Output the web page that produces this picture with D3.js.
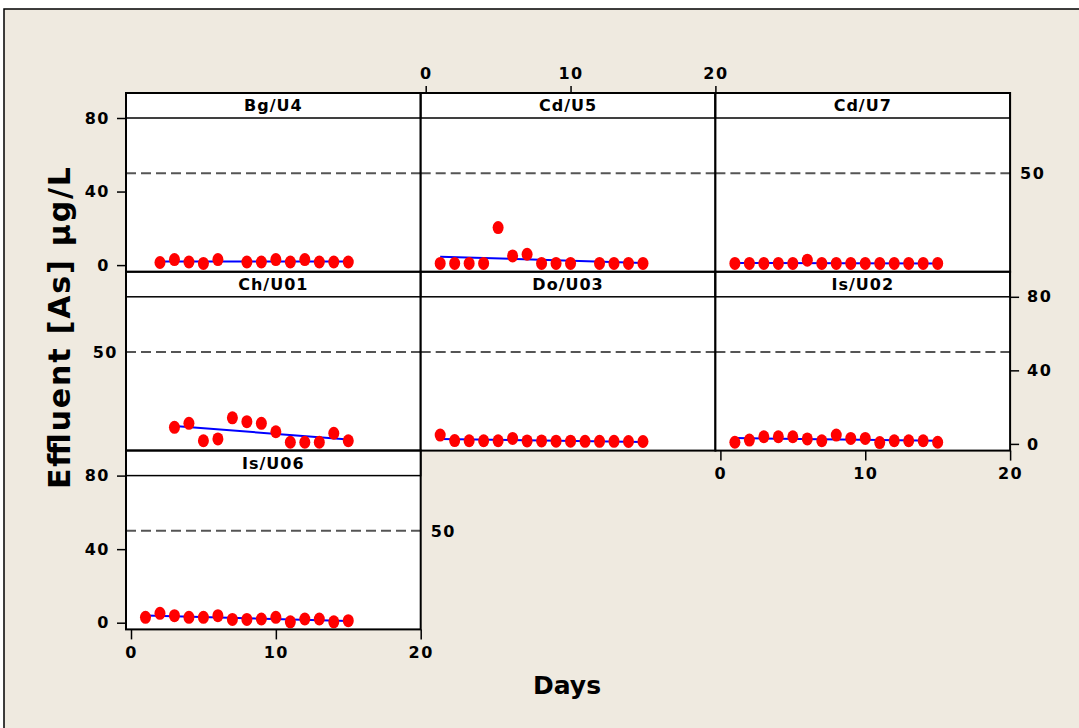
<!DOCTYPE html>
<html>
<head>
<meta charset="utf-8">
<script src="https://cdn.jsdelivr.net/npm/d3@7"></script>
<style>
  body { margin: 0; background: #fff; }
  text { font-family: "DejaVu Sans", Verdana, sans-serif; font-weight: bold; }
</style>
</head>
<body>
<div id="canvas"></div>
<script>
// panel names, in reading order
const panelNames = ["Bg/U4", "Cd/U5", "Cd/U7", "Ch/U01", "Do/U03", "Is/U02", "Is/U06"];

// days and effluent arsenic (µg/L) per panel
const bgU4Days = [2, 3, 4, 5, 6, 8, 9, 10, 11, 12, 13, 14, 15];
const bgU4Vals = [1.4, 3.0, 1.7, 0.9, 3.0, 1.7, 1.7, 3.0, 1.7, 3.0, 1.7, 1.7, 1.7];

const cdU5Days = [1, 2, 3, 4, 5, 6, 7, 8, 9, 10, 12, 13, 14, 15];
const cdU5Vals = [0.9, 0.9, 0.9, 0.9, 20.4, 5.0, 5.9, 0.9, 0.9, 0.9, 0.9, 0.9, 0.9, 0.9];

const cdU7Days = [1, 2, 3, 4, 5, 6, 7, 8, 9, 10, 11, 12, 13, 14, 15];
const cdU7Vals = [0.9, 0.9, 0.9, 0.9, 0.9, 2.7, 0.9, 0.9, 0.9, 0.9, 0.9, 0.9, 0.9, 0.9, 0.9];

const chU01Days = [3, 4, 5, 6, 7, 8, 9, 10, 11, 12, 13, 14, 15];
const chU01Vals = [9.0, 11.2, 1.7, 2.7, 14.2, 12.1, 11.2, 6.6, 0.9, 0.9, 0.9, 5.8, 1.7];

const doU03Days = [1, 2, 3, 4, 5, 6, 7, 8, 9, 10, 11, 12, 13, 14, 15];
const doU03Vals = [4.8, 1.8, 1.7, 1.7, 1.7, 3.0, 1.6, 1.6, 1.5, 1.5, 1.4, 1.4, 1.4, 1.3, 1.3];

const isU02Days = [1, 2, 3, 4, 5, 6, 7, 8, 9, 10, 11, 12, 13, 14, 15];
const isU02Vals = [0.9, 2.1, 3.9, 3.9, 3.9, 2.7, 1.7, 4.8, 3.0, 3.0, 0.7, 1.7, 1.7, 1.7, 0.9];

const isU06Days = [1, 2, 3, 4, 5, 6, 7, 8, 9, 10, 11, 12, 13, 14, 15];
const isU06Vals = [2.9, 5.1, 3.8, 2.9, 2.9, 3.8, 1.8, 1.8, 2.0, 2.9, 0.5, 2.0, 2.0, 0.5, 1.1];

const xTicks = [0, 10, 20];
const yTicks = [0, 40, 80];
const refLine = 50;

const width = 1079, height = 728;
const svg = d3.select("#canvas").append("svg")
  .attr("width", width).attr("height", height);

// outer frame
svg.append("rect")
  .attr("x", 4).attr("y", 9).attr("width", 1100).attr("height", 800)
  .attr("fill", "#efeae0").attr("stroke", "#000").attr("stroke-width", 1.5);

const gridLeft = 126, gridTop = 93, colW = 294.7, rowH = 178.8, stripH = 25;

const panels = [
  { name: panelNames[0], days: bgU4Days, vals: bgU4Vals, col: 0, row: 0 },
  { name: panelNames[1], days: cdU5Days, vals: cdU5Vals, col: 1, row: 0 },
  { name: panelNames[2], days: cdU7Days, vals: cdU7Vals, col: 2, row: 0 },
  { name: panelNames[3], days: chU01Days, vals: chU01Vals, col: 0, row: 1 },
  { name: panelNames[4], days: doU03Days, vals: doU03Vals, col: 1, row: 1 },
  { name: panelNames[5], days: isU02Days, vals: isU02Vals, col: 2, row: 1 },
  { name: panelNames[6], days: isU06Days, vals: isU06Vals, col: 0, row: 2 }
];

// least squares line
function fit(xs, ys) {
  const mx = d3.mean(xs), my = d3.mean(ys);
  let sxy = 0, sxx = 0;
  xs.forEach((v, i) => { sxy += (v - mx) * (ys[i] - my); sxx += (v - mx) * (v - mx); });
  const b = sxy / sxx;
  return v => my + b * (v - mx);
}

function scalesFor(p) {
  const left = gridLeft + p.col * colW, right = left + colW;
  const top = gridTop + p.row * rowH, bottom = top + rowH;
  const x = d3.scaleLinear().domain([0, 20]).range([left + 5, right]);
  const y = d3.scaleLinear().domain([0, 80]).range([bottom - 6.7, top + stripH]);
  return { left, right, top, bottom, x, y };
}

panels.forEach(p => {
  const s = scalesFor(p);
  const g = svg.append("g");

  g.append("rect")
    .attr("x", s.left).attr("y", s.top)
    .attr("width", colW).attr("height", rowH)
    .attr("fill", "#fff");

  g.append("line")
    .attr("x1", s.left).attr("x2", s.right)
    .attr("y1", s.y(refLine)).attr("y2", s.y(refLine))
    .attr("stroke", "#555").attr("stroke-width", 2)
    .attr("stroke-dasharray", "10,5");

  const f = fit(p.days, p.vals);
  const ends = d3.extent(p.days);
  g.append("path")
    .datum(ends)
    .attr("d", d3.line().x(d => s.x(d)).y(d => s.y(f(d))))
    .attr("stroke", "#0000ff").attr("stroke-width", 2).attr("fill", "none");

  g.selectAll("ellipse")
    .data(p.days.map((d, i) => ({ day: d, val: p.vals[i] })))
    .enter().append("ellipse")
    .attr("cx", d => s.x(d.day))
    .attr("cy", d => s.y(d.val))
    .attr("rx", 5.5).attr("ry", 6.5)
    .attr("fill", "#ff0000");

  g.append("rect")
    .attr("x", s.left).attr("y", s.top)
    .attr("width", colW).attr("height", stripH)
    .attr("fill", "#fff").attr("stroke", "#000").attr("stroke-width", 1.5);

  g.append("text")
    .attr("x", (s.left + s.right) / 2).attr("y", s.top + stripH / 2)
    .attr("dy", "0.36em")
    .attr("text-anchor", "middle")
    .attr("font-size", 16).attr("letter-spacing", 1)
    .text(p.name);

  g.append("rect")
    .attr("x", s.left).attr("y", s.top)
    .attr("width", colW).attr("height", rowH)
    .attr("fill", "none").attr("stroke", "#000").attr("stroke-width", 2);
});

function styleAxis(ax) {
  ax.select(".domain").remove();
  ax.attr("font-family", null).attr("font-size", 16);
  ax.selectAll("line").attr("stroke", "#000").attr("stroke-width", 1.5);
  ax.selectAll("text").attr("fill", "#000").attr("letter-spacing", 1.5);
}

// y axes: left on rows 1 and 3, right on row 2
[[0, "left"], [1, "right"], [2, "left"]].forEach(([row, side]) => {
  const p = panels.find(q => q.row === row && q.col === (side === "left" ? 0 : 2));
  const s = scalesFor(p);
  const axis = (side === "left" ? d3.axisLeft(s.y) : d3.axisRight(s.y))
    .tickValues(yTicks).tickSize(9).tickPadding(side === "left" ? 7 : 8);
  const ax = svg.append("g")
    .attr("transform", `translate(${side === "left" ? s.left : s.right},0)`)
    .call(axis);
  styleAxis(ax);
});

// x axes: bottom on columns 1 and 3, top on column 2
[[0, "bottom"], [1, "top"], [2, "bottom"]].forEach(([col, side]) => {
  const inCol = panels.filter(q => q.col === col);
  const p = side === "top" ? inCol[0] : inCol[inCol.length - 1];
  const s = scalesFor(p);
  const axis = (side === "top" ? d3.axisTop(s.x) : d3.axisBottom(s.x))
    .tickValues(xTicks).tickSize(side === "top" ? 7 : 10).tickPadding(7);
  const ax = svg.append("g")
    .attr("transform", `translate(0,${side === "top" ? s.top : s.bottom})`)
    .call(axis);
  styleAxis(ax);
});

// reference line labels
[[0, "right"], [1, "left"], [2, "right"]].forEach(([row, side]) => {
  const inRow = panels.filter(q => q.row === row);
  const p = side === "left" ? inRow[0] : inRow[inRow.length - 1];
  const s = scalesFor(p);
  svg.append("text")
    .attr("x", side === "left" ? s.left - 8 : s.right + 10)
    .attr("y", s.y(refLine)).attr("dy", "0.36em")
    .attr("text-anchor", side === "left" ? "end" : "start")
    .attr("font-size", 16).attr("letter-spacing", 1.5)
    .text(refLine);
});

// axis titles
svg.append("text")
  .attr("x", 567).attr("y", 694)
  .attr("text-anchor", "middle")
  .attr("font-size", 25)
  .text("Days");

svg.append("text")
  .attr("transform", "translate(70,328) rotate(-90)")
  .attr("text-anchor", "middle")
  .attr("font-size", 30)
  .attr("textLength", 322).attr("lengthAdjust", "spacing")
  .text("Effluent [As] µg/L");
</script>
</body>
</html>
